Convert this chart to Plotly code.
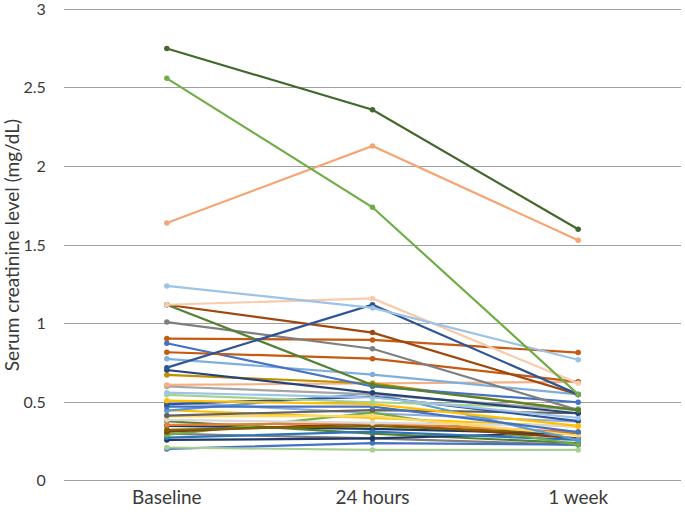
import plotly.graph_objects as go

timepoints = ["Baseline", "24 hours", "1 week"]

baseline = [2.75, 2.56, 1.64, 1.24, 1.12, 0.72, 1.12, 1.01, 1.12, 0.905, 0.818,
            0.875, 0.776, 0.705, 0.674, 0.61, 0.60, 0.561, 0.547, 0.51, 0.487,
            0.472, 0.447, 0.415, 0.41, 0.388, 0.356, 0.324, 0.313, 0.292, 0.275,
            0.26, 0.212, 0.203, 0.30, 0.45, 0.50, 0.38, 0.35]
hours24 = [2.36, 1.74, 2.13, 1.10, 1.16, 1.12, 0.61, 0.84, 0.943, 0.896, 0.777,
           0.60, 0.676, 0.56, 0.62, 0.62, 0.55, 0.53, 0.50, 0.488, 0.536,
           0.472, 0.557, 0.45, 0.413, 0.37, 0.367, 0.35, 0.367, 0.434, 0.313,
           0.27, 0.197, 0.24, 0.27, 0.40, 0.43, 0.30, 0.33]
week1 = [1.60, 0.55, 1.53, 0.77, 0.62, 0.55, 0.45, 0.45, 0.55, 0.816, 0.63,
         0.50, 0.55, 0.43, 0.45, 0.63, 0.45, 0.40, 0.46, 0.35, 0.38,
         0.31, 0.26, 0.43, 0.29, 0.35, 0.31, 0.30, 0.27, 0.23, 0.26,
         0.307, 0.197, 0.23, 0.229, 0.345, 0.377, 0.24, 0.30]

y_ticks = [0, 0.5, 1, 1.5, 2, 2.5, 3]
y_ticktext = ["0", "0.5", "1", "1.5", "2", "2.5", "3"]

colors = ["#43682B", "#70AD47", "#F4A572", "#9DC3E6", "#F8CBAD", "#2F5597", "#548235",
          "#7F7F7F", "#9E480E", "#C55A11", "#C55A11", "#4472C4", "#7CAFDD", "#264478",
          "#BF9000", "#F4B183", "#A5A5A5", "#9DC3E6", "#A9D18E", "#FFC000", "#2F5597",
          "#4472C4", "#5B9BD5", "#636363", "#FFD966", "#D9D9D9", "#ED7D31", "#7F6000",
          "#843C0C", "#70AD47", "#2E75B6", "#1F3864", "#A9D18E", "#4472C4", "#7F7F7F",
          "#FFC000", "#8FAADC", "#548235", "#203864"]

fig = go.Figure()
# draw from bottom of list so the prominent lines end up on top
for i in reversed(range(len(baseline))):
    fig.add_trace(go.Scatter(
        x=timepoints,
        y=[baseline[i], hours24[i], week1[i]],
        mode="lines+markers",
        line=dict(color=colors[i], width=2.2),
        marker=dict(color=colors[i], size=5.5),
        showlegend=False,
        hoverinfo="y",
    ))

fig.update_layout(
    width=685, height=517,
    margin=dict(l=64, r=4, t=6, b=33),
    paper_bgcolor="white", plot_bgcolor="white",
    font=dict(family="Lato, 'Open Sans', sans-serif", color="#3A3A3A"),
    xaxis=dict(
        type="category", range=[-0.5, 2.5], showgrid=False, showline=False,
        zeroline=False, tickfont=dict(size=19, color="#3A3A3A"),
        ticks="", automargin=False,
    ),
    yaxis=dict(
        range=[-0.02, 3.02], tickvals=y_ticks, ticktext=y_ticktext,
        showgrid=True, gridcolor="#A0A0A0", gridwidth=1.4,
        zeroline=True, zerolinecolor="#A0A0A0", zerolinewidth=1.4,
        showline=False, tickfont=dict(size=16, color="#3A3A3A"),
        ticks="outside", ticklen=14, tickcolor="rgba(0,0,0,0)",
        ticklabeloverflow="allow", automargin=False,
        title=dict(text="Serum creatinine level (mg/dL)", font=dict(size=19, color="#3A3A3A"),
                   standoff=4),
    ),
)

fig.write_html("out.html", config={"displayModeBar": False},
               post_script="document.body.style.margin='0';")
